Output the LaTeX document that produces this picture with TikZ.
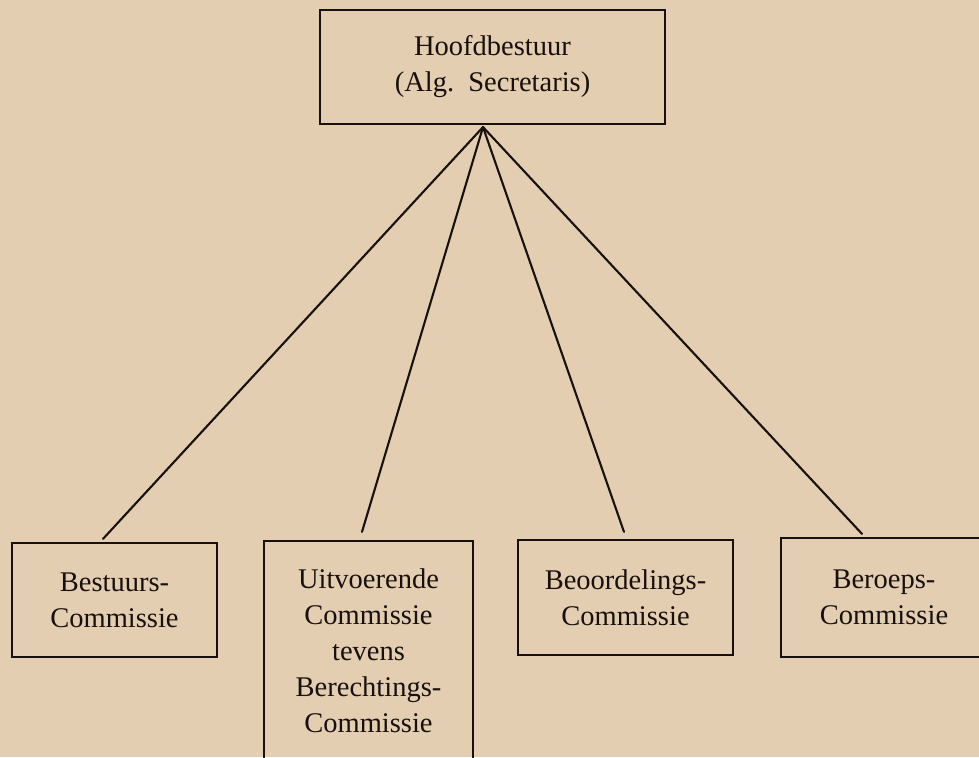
\documentclass[tikz,border=0pt]{standalone}
\usepackage{fontspec}
\setmainfont{Liberation Serif}
\usetikzlibrary{calc}
\definecolor{paper}{RGB}{227,206,178}
\definecolor{ink}{RGB}{24,16,12}
\tikzset{
  orgbox/.style={draw=ink, line width=2.2pt, rectangle, align=center, inner sep=0pt,
    font=\fontsize{28.5}{36}\selectfont, text=ink},
  link/.style={draw=ink, line width=2.1pt, line cap=round}
}
\begin{document}
\begin{tikzpicture}[x=1pt,y=-1pt]
  \useasboundingbox (0,0) rectangle (979,757);
  \fill[paper] (0,0) rectangle (979,757);
  \node[orgbox, minimum width=345pt, minimum height=114pt] (top) at (492.5,67) {Hoofdbestuur\\(Alg.\ \ Secretaris)};
  \node[orgbox, minimum width=205pt, minimum height=114pt] (b1) at (114.5,600) {Bestuurs-\\Commissie};
  \node[orgbox, minimum width=209pt, minimum height=219pt] (b2) at (368.5,650.5) {Uitvoerende\\Commissie\\tevens\\Berechtings-\\Commissie};
  \node[orgbox, minimum width=215pt, minimum height=115pt] (b3) at (625.5,597.5) {Beoordelings-\\Commissie};
  \node[orgbox, minimum width=206pt, minimum height=119pt] (b4) at (884,597.5) {Beroeps-\\Commissie};
  \coordinate (apex) at ([xshift=-9.5pt,yshift=-2pt]top.south);
  \draw[link] (apex) -- ([xshift=-11.5pt,yshift=3pt]b1.north);
  \draw[link] (apex) -- ([xshift=-6.5pt,yshift=8pt]b2.north);
  \draw[link] (apex) -- ([xshift=-1.5pt,yshift=7pt]b3.north);
  \draw[link] (apex) -- ([xshift=-22pt,yshift=3pt]b4.north);
\end{tikzpicture}
\end{document}
